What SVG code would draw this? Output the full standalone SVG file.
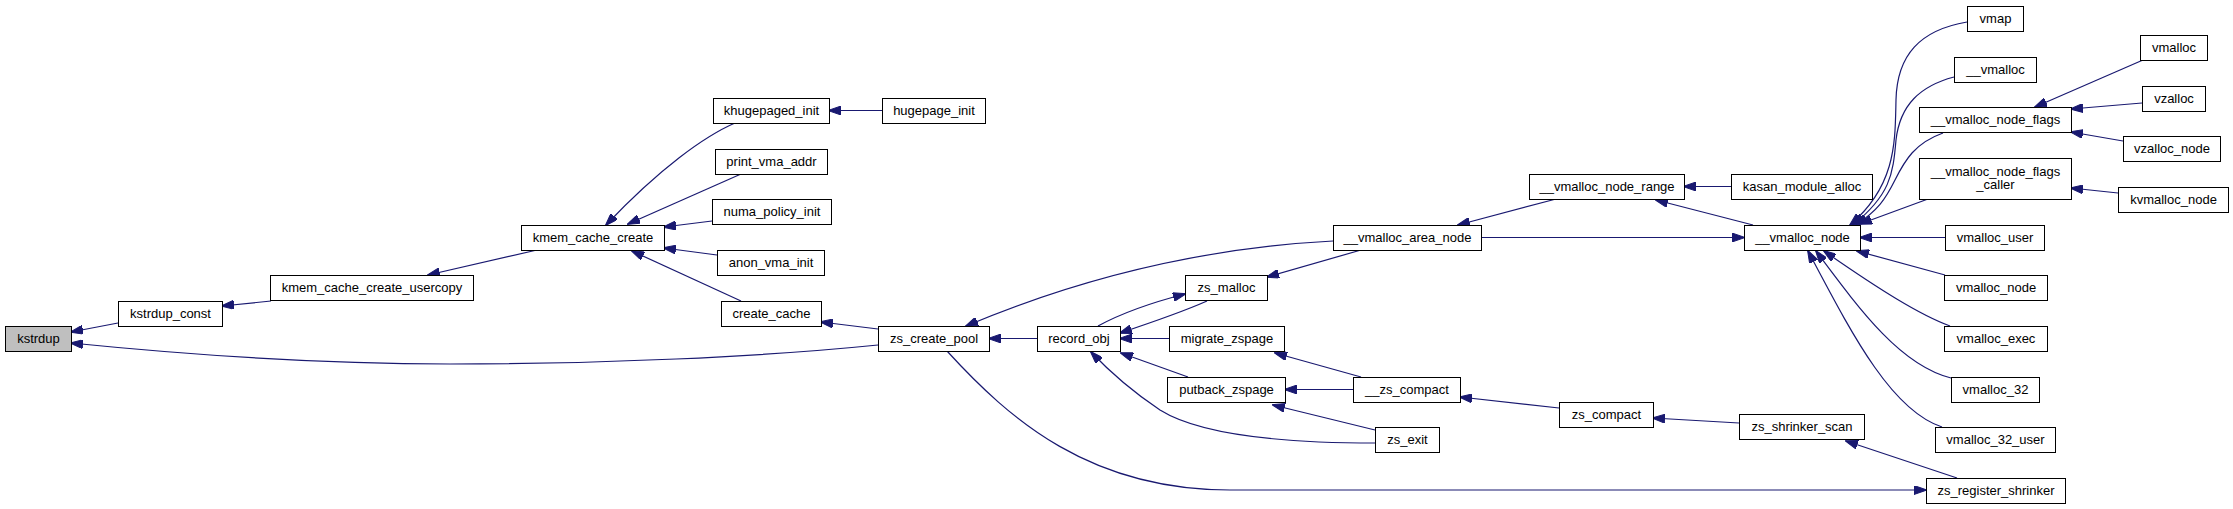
<svg xmlns="http://www.w3.org/2000/svg" width="2233" height="509" viewBox="0 0 2233 509">
<style>
.n rect{fill:#ffffff;stroke:#000000;stroke-width:1}
.n.root rect{fill:#bfbfbf}
.n text{font-family:"Liberation Sans",Arial,sans-serif;font-size:13px;fill:#000000;text-anchor:middle}
#edges path{fill:none;stroke:#191970;stroke-width:1.2;marker-end:url(#ah)}
</style>
<defs>
<marker id="ah" markerWidth="13" markerHeight="9" refX="12" refY="4.5" orient="auto" markerUnits="userSpaceOnUse">
<path d="M0,0L13,4.5L0,9z" fill="#191970" stroke="#191970" stroke-width="1"/>
</marker>
</defs>
<rect x="0" y="0" width="2233" height="509" fill="#ffffff"/>
<g id="edges">
<path d="M118,323 L71,332"/>
<path d="M878,345 C760,357 600,364 450,364 C320,364 180,354 71,343"/>
<path d="M271,301 L222,306"/>
<path d="M537,250 L428,275"/>
<path d="M735,123 C705,136 660,168 606,225"/>
<path d="M741,174 L628,224"/>
<path d="M712,221 L664,227"/>
<path d="M717,255 L664,248"/>
<path d="M741,301 L632,251"/>
<path d="M882,110.5 L829,110.5"/>
<path d="M878,329 L821,322"/>
<path d="M1037,338.5 L989,338.5"/>
<path d="M1333,241 C1200,248 1080,278 966,326"/>
<path d="M947,351 C1010,420 1090,490 1230,490 L1926,490"/>
<path d="M1207,301 C1180,313 1150,323 1120,333"/>
<path d="M1098,326 C1120,314 1150,303 1185,294"/>
<path d="M1169,338.5 L1120,338.5"/>
<path d="M1188,377 L1121,353"/>
<path d="M1375,443 C1280,443 1200,435 1160,410 C1130,390 1110,372 1091,352"/>
<path d="M1361,250 L1267,277"/>
<path d="M1361,377 L1275,353"/>
<path d="M1353,389.5 L1285,389.5"/>
<path d="M1375,430 L1273,405"/>
<path d="M1559,408 L1460,397"/>
<path d="M1739,423 L1653,418"/>
<path d="M1957,478 L1846,441"/>
<path d="M1556,199 L1458,225"/>
<path d="M1731,186.5 L1684,186.5"/>
<path d="M1753,225 L1656,200"/>
<path d="M1481,237.5 L1744,237.5"/>
<path d="M1967,22 C1920,30 1897,55 1896,100 C1895,140 1897,185 1850,225"/>
<path d="M1954,77 C1920,86 1900,105 1896,140 C1893,175 1890,195 1853,225"/>
<path d="M1943,133 C1915,143 1905,160 1895,180 C1885,200 1878,210 1856,225"/>
<path d="M1928,199 L1860,224"/>
<path d="M1945,237.5 L1860,237.5"/>
<path d="M1945,275 L1857,251"/>
<path d="M1950,326 C1920,315 1880,290 1824,251"/>
<path d="M1951,378 C1900,365 1860,310 1816,251"/>
<path d="M1942,427 C1890,410 1850,330 1808,251"/>
<path d="M2143,60 L2035,107"/>
<path d="M2142,103 L2071,109"/>
<path d="M2123,141 L2071,132"/>
<path d="M2118,193 L2071,188"/>
</g>
<g id="kstrdup" class="n root"><rect x="5.5" y="326.5" width="66" height="25"/><text x="38.5" y="343">kstrdup</text></g>
<g id="kstrdup_const" class="n"><rect x="118.5" y="301.5" width="104" height="25"/><text x="170.5" y="318">kstrdup_const</text></g>
<g id="kmem_cache_create_usercopy" class="n"><rect x="270.5" y="275.5" width="203" height="25"/><text x="372" y="292">kmem_cache_create_usercopy</text></g>
<g id="kmem_cache_create" class="n"><rect x="521.5" y="225.5" width="143" height="25"/><text x="593" y="242">kmem_cache_create</text></g>
<g id="khugepaged_init" class="n"><rect x="713.5" y="98.5" width="116" height="25"/><text x="771.5" y="115">khugepaged_init</text></g>
<g id="hugepage_init" class="n"><rect x="882.5" y="98.5" width="103" height="25"/><text x="934" y="115">hugepage_init</text></g>
<g id="print_vma_addr" class="n"><rect x="715.5" y="149.5" width="112" height="25"/><text x="771.5" y="166">print_vma_addr</text></g>
<g id="numa_policy_init" class="n"><rect x="712.5" y="199.5" width="119" height="25"/><text x="772" y="216">numa_policy_init</text></g>
<g id="anon_vma_init" class="n"><rect x="717.5" y="250.5" width="107" height="25"/><text x="771" y="267">anon_vma_init</text></g>
<g id="create_cache" class="n"><rect x="721.5" y="301.5" width="100" height="25"/><text x="771.5" y="318">create_cache</text></g>
<g id="zs_create_pool" class="n"><rect x="878.5" y="326.5" width="111" height="25"/><text x="934" y="343">zs_create_pool</text></g>
<g id="record_obj" class="n"><rect x="1037.5" y="326.5" width="83" height="25"/><text x="1079" y="343">record_obj</text></g>
<g id="zs_malloc" class="n"><rect x="1185.5" y="275.5" width="82" height="25"/><text x="1226.5" y="292">zs_malloc</text></g>
<g id="migrate_zspage" class="n"><rect x="1169.5" y="326.5" width="115" height="25"/><text x="1227" y="343">migrate_zspage</text></g>
<g id="putback_zspage" class="n"><rect x="1167.5" y="377.5" width="118" height="25"/><text x="1226.5" y="394">putback_zspage</text></g>
<g id="zs_exit" class="n"><rect x="1375.5" y="427.5" width="64" height="25"/><text x="1407.5" y="444">zs_exit</text></g>
<g id="__vmalloc_area_node" class="n"><rect x="1333.5" y="225.5" width="148" height="25"/><text x="1407.5" y="242">__vmalloc_area_node</text></g>
<g id="__zs_compact" class="n"><rect x="1353.5" y="377.5" width="107" height="25"/><text x="1407" y="394">__zs_compact</text></g>
<g id="zs_compact" class="n"><rect x="1559.5" y="402.5" width="94" height="25"/><text x="1606.5" y="419">zs_compact</text></g>
<g id="__vmalloc_node_range" class="n"><rect x="1529.5" y="174.5" width="155" height="25"/><text x="1607" y="191">__vmalloc_node_range</text></g>
<g id="kasan_module_alloc" class="n"><rect x="1731.5" y="174.5" width="141" height="25"/><text x="1802" y="191">kasan_module_alloc</text></g>
<g id="__vmalloc_node" class="n"><rect x="1744.5" y="225.5" width="116" height="25"/><text x="1802.5" y="242">__vmalloc_node</text></g>
<g id="zs_shrinker_scan" class="n"><rect x="1739.5" y="414.5" width="125" height="25"/><text x="1802" y="431">zs_shrinker_scan</text></g>
<g id="zs_register_shrinker" class="n"><rect x="1926.5" y="478.5" width="139" height="25"/><text x="1996" y="495">zs_register_shrinker</text></g>
<g id="vmap" class="n"><rect x="1967.5" y="6.5" width="56" height="25"/><text x="1995.5" y="23">vmap</text></g>
<g id="__vmalloc" class="n"><rect x="1954.5" y="57.5" width="82" height="25"/><text x="1995.5" y="74">__vmalloc</text></g>
<g id="__vmalloc_node_flags" class="n"><rect x="1919.5" y="107.5" width="152" height="25"/><text x="1995.5" y="124">__vmalloc_node_flags</text></g>
<g id="__vmalloc_node_flags_caller" class="n"><rect x="1919.5" y="158.5" width="152" height="41"/><text x="1995.5" y="176">__vmalloc_node_flags</text><text x="1995.5" y="189">_caller</text></g>
<g id="vmalloc_user" class="n"><rect x="1945.5" y="225.5" width="99" height="25"/><text x="1995" y="242">vmalloc_user</text></g>
<g id="vmalloc_node" class="n"><rect x="1944.5" y="275.5" width="103" height="25"/><text x="1996" y="292">vmalloc_node</text></g>
<g id="vmalloc_exec" class="n"><rect x="1944.5" y="326.5" width="103" height="25"/><text x="1996" y="343">vmalloc_exec</text></g>
<g id="vmalloc_32" class="n"><rect x="1951.5" y="377.5" width="88" height="25"/><text x="1995.5" y="394">vmalloc_32</text></g>
<g id="vmalloc_32_user" class="n"><rect x="1935.5" y="427.5" width="120" height="25"/><text x="1995.5" y="444">vmalloc_32_user</text></g>
<g id="vmalloc" class="n"><rect x="2140.5" y="35.5" width="67" height="25"/><text x="2174" y="52">vmalloc</text></g>
<g id="vzalloc" class="n"><rect x="2142.5" y="86.5" width="63" height="25"/><text x="2174" y="103">vzalloc</text></g>
<g id="vzalloc_node" class="n"><rect x="2123.5" y="136.5" width="97" height="25"/><text x="2172" y="153">vzalloc_node</text></g>
<g id="kvmalloc_node" class="n"><rect x="2118.5" y="187.5" width="110" height="25"/><text x="2173.5" y="204">kvmalloc_node</text></g>
</svg>
